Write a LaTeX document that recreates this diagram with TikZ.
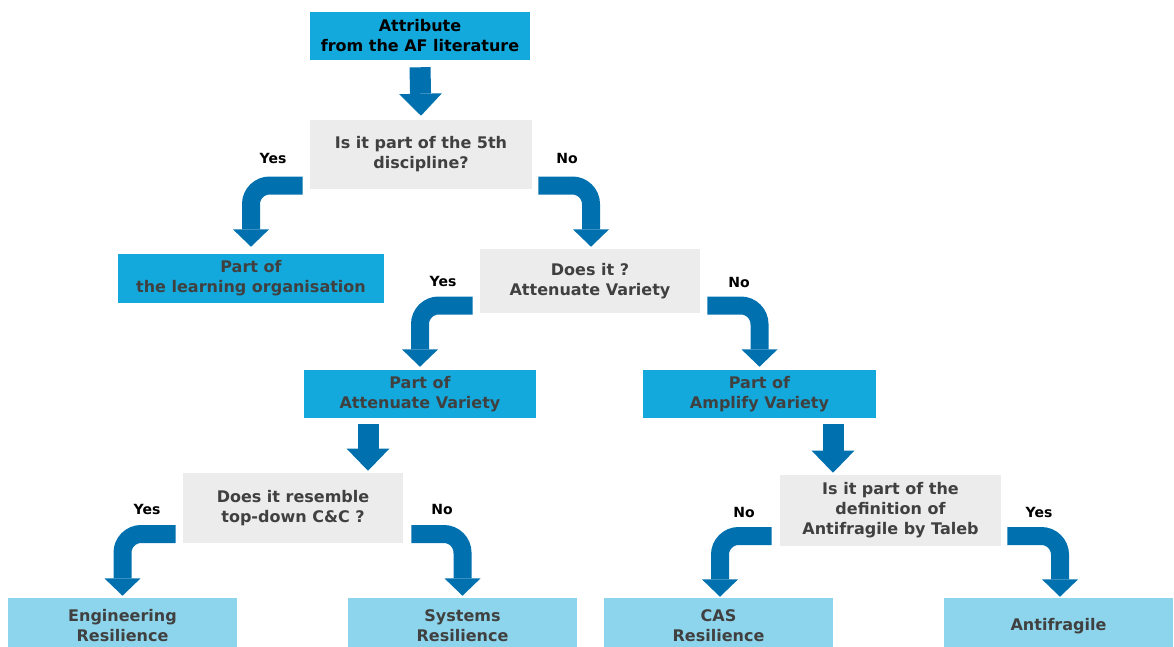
\documentclass[tikz,border=0pt]{standalone}
\usepackage{fontspec}
\setmainfont{DejaVu Sans}
\usetikzlibrary{arrows.meta,calc}
\definecolor{boxblue}{RGB}{20,169,220}
\definecolor{lightblue}{RGB}{141,213,236}
\definecolor{qgray}{RGB}{236,236,236}
\definecolor{arrowblue}{RGB}{0,112,175}
\definecolor{txtgray}{RGB}{64,64,64}
\begin{document}
\begin{tikzpicture}[x=0.75pt,y=-0.75pt,
  basebox/.style={inner sep=0pt, align=center, font=\bfseries\fontsize{12}{15}\selectfont, text=txtgray},
  bluebox/.style={basebox, fill=boxblue},
  lightbox/.style={basebox, fill=lightblue, minimum width=229*0.75pt, minimum height=56*0.75pt},
  qbox/.style={basebox, fill=qgray},
  lbl/.style={font=\bfseries\fontsize{10.5}{12}\selectfont, text=black, inner sep=0pt},
  bendarrow/.style={draw=arrowblue, line width=13.5pt, rounded corners=14pt,
     -{Triangle[width=27pt,length=13pt,line width=0pt]}},
  downarrow/.style={draw=arrowblue, line width=15.75pt,
     -{Triangle[width=32pt,length=16.5pt,line width=0pt]}}
]
\useasboundingbox (0,0) rectangle (1174,646);

% boxes
\node[bluebox, text=black, minimum width=220*0.75pt, minimum height=48*0.75pt] (top) at (420,36) {Attribute\\from the AF literature};
\node[qbox, minimum width=222*0.75pt, minimum height=69*0.75pt] (q1) at (421,154.5) {Is it part of the 5th\\discipline?};
\node[bluebox, minimum width=266*0.75pt, minimum height=49*0.75pt] (learn) at (251,278.5) {Part of\\the learning organisation};
\node[qbox, minimum width=220*0.75pt, minimum height=64*0.75pt] (q2) at (590,281) {Does it ?\\Attenuate Variety};
\node[bluebox, minimum width=232*0.75pt, minimum height=48*0.75pt] (att) at (420,394) {Part of\\Attenuate Variety};
\node[bluebox, minimum width=233*0.75pt, minimum height=48*0.75pt] (amp) at (759.5,394) {Part of\\Amplify Variety};
\node[qbox, minimum width=220*0.75pt, minimum height=70*0.75pt] (q3) at (293,508) {Does it resemble\\top-down C\&C ?};
\node[qbox, minimum width=221*0.75pt, minimum height=71*0.75pt] (q4) at (890.5,510.5) {Is it part of the\\definition of\\Antifragile by Taleb};
\node[lightbox] (eng) at (122.5,626) {Engineering\\Resilience};
\node[lightbox] (sys) at (462.5,626) {Systems\\Resilience};
\node[lightbox] (cas) at (718.5,626) {CAS\\Resilience};
\node[lightbox] (anti) at (1058.5,626) {Antifragile};

% labels
\node[lbl] (l1) at (273,158) {Yes};
\node[lbl] (l2) at (567,158) {No};
\node[lbl] (l3) at (443,281) {Yes};
\node[lbl] (l4) at (739,282) {No};
\node[lbl] (l5) at (147,509) {Yes};
\node[lbl] (l6) at (442,509) {No};
\node[lbl] (l7) at (744,512) {No};
\node[lbl] (l8) at (1039,512) {Yes};

% straight arrows
\draw[downarrow] ($(top.south)+(0,7)$) -- ($(q1.north)+(0,-4)$);
\coordinate (a3) at ($(att.south)+(-52,6)$);
\draw[downarrow] (a3) -- ($(a3 |- q3.north)+(0,-2)$);
\coordinate (a4) at ($(amp.south)+(73.5,6)$);
\draw[downarrow] (a4) -- ($(a4 |- q4.north)+(0,-2)$);

% bent arrows
\coordinate (s1) at ($(q1.west)+(-7,31)$);
\draw[bendarrow] (s1) -- (s1 -| learn.north) -- ($(learn.north)+(0,-7)$);
\coordinate (s2) at ($(q1.east)+(6,31)$);
\coordinate (e2) at ($(q2.north)+(1,-2)$);
\draw[bendarrow] (s2) -- (s2 -| e2) -- (e2);
\coordinate (s3) at ($(q2.west)+(-7,24.5)$);
\draw[bendarrow] (s3) -- (s3 -| att.north) -- ($(att.north)+(0,-3)$);
\coordinate (s4) at ($(q2.east)+(7,24.5)$);
\draw[bendarrow] (s4) -- (s4 -| amp.north) -- ($(amp.north)+(0,-3)$);
\coordinate (s5) at ($(q3.west)+(-7,26)$);
\draw[bendarrow] (s5) -- (s5 -| eng.north) -- ($(eng.north)+(0,-2)$);
\coordinate (s6) at ($(q3.east)+(8,26)$);
\draw[bendarrow] (s6) -- (s6 -| sys.north) -- ($(sys.north)+(0,-2)$);
\coordinate (s7) at ($(q4.west)+(-8,25.5)$);
\coordinate (e7) at ($(cas.north)+(1.5,-1)$);
\draw[bendarrow] (s7) -- (s7 -| e7) -- (e7);
\coordinate (s8) at ($(q4.east)+(6,25.5)$);
\coordinate (e8) at ($(anti.north)+(1.5,-1)$);
\draw[bendarrow] (s8) -- (s8 -| e8) -- (e8);
\end{tikzpicture}
\end{document}
